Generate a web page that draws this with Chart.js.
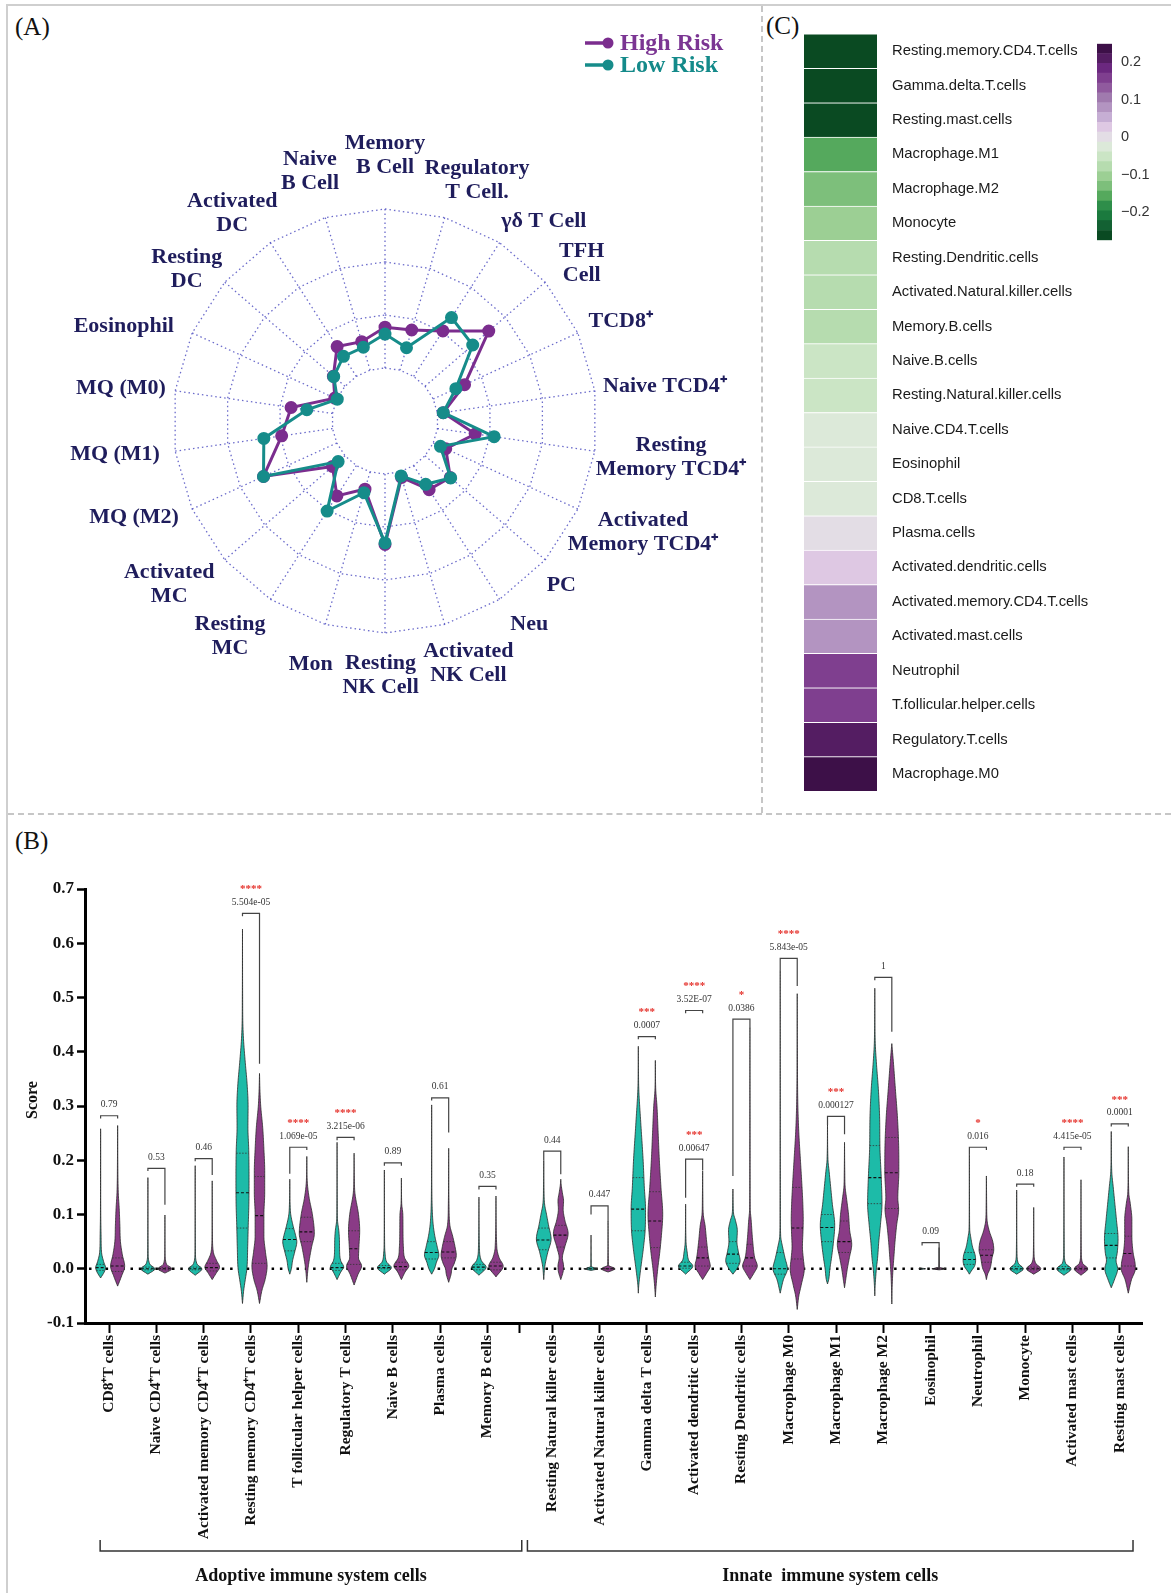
<!DOCTYPE html>
<html>
<head>
<meta charset="utf-8">
<title>Immune cell infiltration</title>
<script src="https://cdn.jsdelivr.net/npm/chart.js@4.4.1/dist/chart.umd.min.js"></script>
<style>
	body { margin: 0; background: #fff; }
	#figure { position: relative; width: 1171px; height: 1593px; overflow: hidden; font-family: "Liberation Serif", serif; }
	canvas { position: absolute; }
	.tag { position: absolute; font-size: 25px; line-height: 25px; color: #111; }
	.frame-top { position: absolute; left: 6px; top: 4px; width: 1165px; border-top: 2px solid #cfcfcf; }
	.frame-left { position: absolute; left: 6px; top: 4px; height: 1589px; border-left: 2px solid #cfcfcf; }
	.divider-v { position: absolute; left: 761px; top: 6px; height: 807px; border-left: 2px dashed #c6c6c6; }
	.divider-h { position: absolute; left: 8px; top: 813px; width: 1163px; border-top: 2px dashed #c6c6c6; }
</style>
</head>
<body>
<div id="figure">
	<div class="frame-top"></div>
	<div class="frame-left"></div>
	<div class="divider-v"></div>
	<div class="divider-h"></div>
	<div class="tag" style="left:15px; top:14px;">(A)</div>
	<div class="tag" style="left:766px; top:13px;">(C)</div>
	<div class="tag" style="left:15px; top:828px;">(B)</div>
	<canvas id="radarChart" width="753" height="805" style="left:7px; top:5px;"></canvas>
	<canvas id="heatChart" width="303" height="805" style="left:804px; top:10px;"></canvas>
	<canvas id="scaleChart" width="60" height="232" style="left:1097px; top:26px;"></canvas>
	<canvas id="violinChart" width="1171" height="778" style="left:0px; top:815px;"></canvas>
</div>

<script>
/**
 * 면역세포 침윤 비교 그림
 * (A) 레이더, (B) 바이올린, (C) 상관 히트맵
 */

// ---- (A) 레이더 데이터 ----
const radarLabels = [
	['Memory', 'B Cell'], ['Regulatory', 'T Cell.'], ['γδ T Cell'], ['TFH', 'Cell'], ['TCD8⁺'],
	['Naive TCD4⁺'], ['Resting', 'Memory TCD4⁺'], ['Activated', 'Memory TCD4⁺'], ['PC'], ['Neu'],
	['Activated', 'NK Cell'], ['Resting', 'NK Cell'], ['Mon'], ['Resting', 'MC'], ['Activated', 'MC'],
	['MQ (M2)'], ['MQ (M1)'], ['MQ (M0)'], ['Eosinophil'], ['Resting', 'DC'], ['Activated', 'DC'],
	['Naive', 'B Cell']
];
const highRiskScores = [1.77, 1.79, 2.02, 2.59, 1.65, 1.11, 1.72, 1.26, 1.63, 1.54, 1.11,
	2.33, 1.34, 1.68, 1.31, 2.52, 1.97, 1.79, 1.04, 1.29, 1.67, 1.56];
const lowRiskScores = [1.64, 1.44, 2.32, 2.19, 1.47, 1.11, 2.08, 1.15, 1.64, 1.42, 1.08,
	2.30, 1.41, 2.02, 1.17, 2.52, 2.31, 1.49, 0.99, 1.28, 1.45, 1.45];

// ---- (C) 히트맵 데이터 ----
const heatRows = ['Resting.memory.CD4.T.cells', 'Gamma.delta.T.cells', 'Resting.mast.cells',
	'Macrophage.M1', 'Macrophage.M2', 'Monocyte', 'Resting.Dendritic.cells',
	'Activated.Natural.killer.cells', 'Memory.B.cells', 'Naive.B.cells',
	'Resting.Natural.killer.cells', 'Naive.CD4.T.cells', 'Eosinophil', 'CD8.T.cells',
	'Plasma.cells', 'Activated.dendritic.cells', 'Activated.memory.CD4.T.cells',
	'Activated.mast.cells', 'Neutrophil', 'T.follicular.helper.cells', 'Regulatory.T.cells',
	'Macrophage.M0'];
const heatValues = [-0.26, -0.26, -0.26, -0.156, -0.13, -0.104, -0.078, -0.078, -0.078, -0.052,
	-0.052, -0.026, -0.026, -0.026, 0.0, 0.027, 0.079, 0.079, 0.157, 0.157, 0.21, 0.236];
const colorScaleTicks = [-0.2, -0.1, 0, 0.1, 0.2];
const colorScaleRange = [-0.274, 0.249];
const colorScalePalette = ['#0a4a22', '#136133', '#1b7a3e', '#2e8e4a', '#55a95d', '#7dbf7b',
	'#9ccf94', '#b6dcaf', '#cbe5c5', '#dce9d9', '#e3dde5', '#dec8e3', '#c6aed4', '#b394c1',
	'#a07aae', '#905a9e', '#7f3f8f', '#6b287f', '#541d62', '#3d1048'];

// ---- (B) 바이올린 데이터 ----
const cellTypes = ['CD8⁺T cells', 'Naive CD4⁺T cells', 'Activated memory CD4⁺T cells',
	'Resting memory CD4⁺T cells', 'T follicular helper cells', 'Regulatory T cells',
	'Naive B cells', 'Plasma cells', 'Memory B cells', 'Resting Natural killer cells',
	'Activated Natural killer cells', 'Gamma delta T cells', 'Activated dendritic cells',
	'Resting Dendritic cells', 'Macrophage M0', 'Macrophage M1', 'Macrophage M2',
	'Eosinophil', 'Neutrophil', 'Monocyte', 'Activated mast cells', 'Resting mast cells'];
const adaptiveCount = 9;
const groupNames = ['Adoptive immune system cells', 'Innate  immune system cells'];
const scoreRange = [-0.1, 0.7];

// 밀도 프로파일: [score, 상대 밀도]
const lowRiskViolins = [
	[[-0.017, 0], [-0.006, 0.45], [0.002, 0.62], [0.012, 0.4], [0.03, 0.12], [0.06, 0.06], [0.1, 0.02], [0.258, 0]],
	[[-0.01, 0], [0, 0.88], [0.008, 0.25], [0.03, 0.03], [0.168, 0]],
	[[-0.012, 0], [0, 0.85], [0.008, 0.25], [0.03, 0.03], [0.19, 0]],
	[[-0.064, 0], [-0.04, 0.15], [-0.02, 0.35], [0, 0.55], [0.04, 0.65], [0.08, 0.72], [0.12, 0.8], [0.17, 0.82], [0.22, 0.78], [0.26, 0.68], [0.3, 0.7], [0.34, 0.58], [0.38, 0.35], [0.42, 0.14], [0.45, 0.05], [0.5, 0.02], [0.626, 0]],
	[[-0.01, 0], [0, 0.2], [0.015, 0.35], [0.03, 0.6], [0.05, 0.88], [0.06, 0.75], [0.08, 0.4], [0.1, 0.12], [0.12, 0.04], [0.165, 0]],
	[[-0.02, 0], [-0.005, 0.5], [0.003, 0.83], [0.015, 0.45], [0.03, 0.32], [0.05, 0.3], [0.07, 0.22], [0.09, 0.05], [0.12, 0.02], [0.233, 0]],
	[[-0.01, 0], [0.002, 0.88], [0.012, 0.3], [0.03, 0.08], [0.05, 0.03], [0.182, 0]],
	[[-0.01, 0], [0, 0.35], [0.012, 0.6], [0.025, 0.9], [0.04, 0.7], [0.06, 0.4], [0.08, 0.2], [0.1, 0.1], [0.14, 0.03], [0.302, 0]],
	[[-0.012, 0], [0.003, 0.9], [0.015, 0.3], [0.04, 0.06], [0.132, 0]],
	[[-0.02, 0], [0, 0.1], [0.01, 0.2], [0.03, 0.5], [0.055, 0.92], [0.08, 0.6], [0.1, 0.35], [0.12, 0.1], [0.15, 0.03], [0.199, 0]],
	[[-0.003, 0], [0, 0.9], [0.003, 0.05], [0.062, 0]],
	[[-0.045, 0], [-0.03, 0.06], [0, 0.3], [0.04, 0.65], [0.07, 0.85], [0.11, 0.9], [0.15, 0.75], [0.2, 0.6], [0.27, 0.3], [0.33, 0.06], [0.36, 0.02], [0.41, 0]],
	[[-0.01, 0], [0.005, 0.9], [0.015, 0.4], [0.03, 0.2], [0.05, 0.05], [0.119, 0]],
	[[-0.01, 0], [0, 0.5], [0.015, 0.9], [0.03, 0.7], [0.05, 0.5], [0.07, 0.55], [0.09, 0.3], [0.1, 0.1], [0.12, 0.03], [0.147, 0]],
	[[-0.045, 0], [-0.02, 0.4], [0, 0.9], [0.02, 0.6], [0.04, 0.3], [0.06, 0.06], [0.1, 0.02], [0.55, 0]],
	[[-0.028, 0], [-0.02, 0.15], [0, 0.3], [0.02, 0.5], [0.05, 0.75], [0.08, 0.9], [0.12, 0.6], [0.15, 0.4], [0.18, 0.2], [0.2, 0.06], [0.265, 0]],
	[[-0.05, 0], [-0.03, 0.05], [0, 0.2], [0.02, 0.35], [0.05, 0.5], [0.08, 0.7], [0.12, 0.9], [0.17, 0.8], [0.22, 0.65], [0.28, 0.6], [0.33, 0.45], [0.38, 0.2], [0.42, 0.05], [0.517, 0]],
	[[-0.001, 0], [0, 0.4], [0.001, 0]],
	[[-0.01, 0], [-0.005, 0.2], [0.005, 0.65], [0.015, 0.78], [0.025, 0.72], [0.04, 0.4], [0.06, 0.15], [0.07, 0.05], [0.1, 0.02], [0.211, 0]],
	[[-0.01, 0], [0, 0.85], [0.01, 0.2], [0.03, 0.04], [0.145, 0]],
	[[-0.012, 0], [0, 0.9], [0.01, 0.2], [0.03, 0.04], [0.206, 0]],
	[[-0.035, 0], [-0.02, 0.4], [0, 0.8], [0.015, 0.6], [0.03, 0.75], [0.055, 0.85], [0.09, 0.65], [0.12, 0.45], [0.15, 0.25], [0.18, 0.06], [0.253, 0]]
];
const highRiskViolins = [
	[[-0.032, 0], [-0.015, 0.45], [0.005, 0.88], [0.025, 0.6], [0.05, 0.35], [0.08, 0.28], [0.11, 0.2], [0.14, 0.08], [0.2, 0.02], [0.264, 0]],
	[[-0.008, 0], [0, 0.88], [0.008, 0.2], [0.03, 0.02], [0.099, 0]],
	[[-0.02, 0], [-0.008, 0.5], [0.003, 0.92], [0.015, 0.55], [0.03, 0.15], [0.06, 0.03], [0.162, 0]],
	[[-0.064, 0], [-0.04, 0.3], [-0.02, 0.7], [0.005, 0.95], [0.03, 0.75], [0.06, 0.55], [0.1, 0.55], [0.14, 0.65], [0.18, 0.65], [0.22, 0.55], [0.26, 0.4], [0.3, 0.15], [0.33, 0.05], [0.36, 0]],
	[[-0.025, 0], [0, 0.15], [0.02, 0.35], [0.04, 0.6], [0.065, 0.94], [0.1, 0.7], [0.13, 0.3], [0.16, 0.06], [0.207, 0]],
	[[-0.03, 0], [-0.01, 0.5], [0.005, 0.94], [0.02, 0.55], [0.04, 0.6], [0.07, 0.7], [0.1, 0.55], [0.14, 0.1], [0.17, 0.03], [0.213, 0]],
	[[-0.02, 0], [-0.005, 0.5], [0.005, 0.94], [0.02, 0.4], [0.04, 0.25], [0.07, 0.2], [0.1, 0.18], [0.12, 0.04], [0.167, 0]],
	[[-0.025, 0], [-0.01, 0.3], [0, 0.4], [0.01, 0.7], [0.025, 0.95], [0.04, 0.8], [0.06, 0.5], [0.08, 0.15], [0.12, 0.04], [0.222, 0]],
	[[-0.015, 0], [0.005, 0.9], [0.02, 0.4], [0.04, 0.1], [0.134, 0]],
	[[-0.02, 0], [-0.005, 0.3], [0.005, 0.35], [0.02, 0.2], [0.04, 0.5], [0.065, 0.92], [0.09, 0.5], [0.11, 0.3], [0.125, 0.35], [0.14, 0.2], [0.155, 0.05], [0.165, 0]],
	[[-0.006, 0], [0, 0.9], [0.006, 0.05], [0.088, 0]],
	[[-0.052, 0], [-0.03, 0.1], [0, 0.3], [0.03, 0.55], [0.06, 0.75], [0.1, 0.92], [0.15, 0.7], [0.2, 0.5], [0.25, 0.35], [0.3, 0.2], [0.33, 0.05], [0.384, 0]],
	[[-0.02, 0], [-0.008, 0.5], [0.005, 0.95], [0.02, 0.75], [0.05, 0.5], [0.08, 0.3], [0.1, 0.08], [0.13, 0.03], [0.18, 0]],
	[[-0.02, 0], [-0.008, 0.5], [0.005, 0.92], [0.02, 0.6], [0.05, 0.35], [0.09, 0.15], [0.11, 0.04], [0.2, 0.02], [0.444, 0]],
	[[-0.075, 0], [-0.05, 0.2], [-0.03, 0.5], [0, 0.88], [0.02, 0.75], [0.04, 0.65], [0.07, 0.72], [0.09, 0.75], [0.12, 0.7], [0.15, 0.6], [0.2, 0.4], [0.25, 0.2], [0.3, 0.08], [0.4, 0.02], [0.507, 0]],
	[[-0.035, 0], [-0.02, 0.15], [0, 0.35], [0.02, 0.6], [0.045, 0.9], [0.07, 0.65], [0.1, 0.5], [0.13, 0.25], [0.15, 0.08], [0.18, 0.03], [0.233, 0]],
	[[-0.065, 0], [-0.03, 0.05], [0, 0.15], [0.02, 0.25], [0.05, 0.4], [0.08, 0.6], [0.11, 0.85], [0.13, 0.75], [0.18, 0.88], [0.23, 0.85], [0.28, 0.7], [0.33, 0.45], [0.38, 0.2], [0.415, 0]],
	[[-0.002, 0], [0, 0.9], [0.002, 0.05], [0.039, 0]],
	[[-0.02, 0], [-0.01, 0.15], [0, 0.45], [0.01, 0.6], [0.02, 0.7], [0.035, 0.92], [0.05, 0.8], [0.07, 0.35], [0.09, 0.08], [0.12, 0.03], [0.171, 0]],
	[[-0.01, 0], [0, 0.9], [0.01, 0.25], [0.03, 0.04], [0.113, 0]],
	[[-0.012, 0], [0, 0.85], [0.01, 0.2], [0.03, 0.04], [0.164, 0]],
	[[-0.045, 0], [-0.02, 0.4], [0, 0.88], [0.01, 0.85], [0.03, 0.6], [0.06, 0.45], [0.09, 0.45], [0.12, 0.25], [0.14, 0.06], [0.225, 0]]
];
// [Q1, median, Q3]
const lowRiskQuartiles = [[-0.003, 0.002, 0.008], [-0.002, 0, 0.003], [-0.002, 0, 0.003], [0.075, 0.14, 0.213],
	[0.033, 0.054, 0.074], [-0.003, 0.002, 0.01], [0, 0.002, 0.006], [0.018, 0.03, 0.05], [-0.002, 0.003, 0.008],
	[0.035, 0.053, 0.075], [0, 0, 0], [0.07, 0.11, 0.168], [0.001, 0.005, 0.012], [0.01, 0.027, 0.05],
	[-0.01, 0, 0.03], [0.05, 0.076, 0.1], [0.12, 0.168, 0.227], [0, 0, 0], [0.008, 0.017, 0.03],
	[-0.002, 0, 0.004], [-0.002, 0, 0.004], [0.02, 0.043, 0.065]];
const highRiskQuartiles = [[-0.005, 0.005, 0.02], [-0.002, 0, 0.002], [-0.004, 0.002, 0.01], [0.01, 0.098, 0.17],
	[0.05, 0.068, 0.095], [0.008, 0.037, 0.07], [-0.002, 0.004, 0.012], [0.02, 0.031, 0.05], [-0.002, 0.005, 0.012],
	[0.04, 0.062, 0.08], [0, 0, 0], [0.039, 0.088, 0.142], [0.005, 0.02, 0.04], [0.005, 0.02, 0.045],
	[0.018, 0.075, 0.15], [0.03, 0.05, 0.088], [0.111, 0.177, 0.242], [0, 0, 0], [0.012, 0.025, 0.035],
	[-0.002, 0, 0.003], [-0.002, 0, 0.003], [0.005, 0.028, 0.06]];

// 유의성 검정: 카테고리, p값, 별표, [괄호 높이, 왼쪽 다리 끝, 오른쪽 다리 끝]
const testCategory = [0, 1, 2, 3, 4, 5, 6, 7, 8, 9, 10, 11, 12, 12, 13, 14, 15, 16, 17, 18, 19, 20, 21];
const testP = ['0.79', '0.53', '0.46', '5.504e-05', '1.069e-05', '3.215e-06', '0.89', '0.61', '0.35',
	'0.44', '0.447', '0.0007', '3.52E-07', '0.00647', '0.0386', '5.843e-05', '0.000127', '1',
	'0.09', '0.016', '0.18', '4.415e-05', '0.0001'];
const testStars = ['', '', '', '****', '****', '****', '', '', '', '', '', '***', '****', '***', '*',
	'****', '***', '', '', '*', '', '****', '***'];
const testBracket = [[0.282, 0.277, 0.277], [0.185, 0.180, 0.118], [0.203, 0.198, 0.173],
	[0.655, 0.650, 0.378], [0.224, 0.175, 0.219], [0.242, 0.237, 0.237], [0.195, 0.190, 0.190],
	[0.315, 0.310, 0.251], [0.152, 0.146, 0.146], [0.217, 0.199, 0.174], [0.116, 0.100, 0.088],
	[0.428, 0.423, 0.423], [0.476, 0.471, 0.471], [0.202, 0.131, 0.181], [0.460, 0.171, 0.444],
	[0.572, 0.550, 0.521], [0.281, 0.265, 0.248], [0.537, 0.532, 0.437], [0.048, 0.043, 0.0],
	[0.224, 0.211, 0.219], [0.156, 0.151, 0.151], [0.224, 0.219, 0.219], [0.267, 0.262, 0.262]];

// ---- 스타일 ----
const HIGH_COLOR = '#7b2d8e';
const LOW_COLOR = '#168c8a';
const VIOLIN_LOW = '#1dbba8';
const VIOLIN_HIGH = '#8a3b86';
const GRID_COLOR = 'rgba(70, 70, 190, 0.8)';
const LABEL_NAVY = '#1f1d5c';
const SERIF = '"Liberation Serif", "Times New Roman", serif';
const SANS = '"Liberation Sans", Arial, sans-serif';
const GROUP_GAP = 0.37;
const PAIR_OFFSET = 0.18;
const VIOLIN_HALF = 8;
// 레이더 라벨 배치: [바깥 원 대비 거리, 각도(도)]
const RADAR_LABEL_POLAR = [[1.255, 0], [1.217, 20.9], [1.203, 38.5], [1.189, 51.3], [1.208, 67],
	[1.33, 83], [1.36, 97.3], [1.326, 113.4], [1.137, 133], [1.175, 144.6], [1.208, 161],
	[1.198, 181], [1.198, 197], [1.25, 215.8], [1.278, 232.8], [1.268, 249], [1.283, 263],
	[1.255, 277], [1.311, 290], [1.179, 307.5], [1.217, 323.7], [1.231, 343.3]];

Chart.defaults.font.family = SERIF;

document.addEventListener('DOMContentLoaded', function() {
	initRadarChart();
	initHeatmapChart();
	initColorScale();
	initViolinChart();
});

/**
 * (A) 레이더 차트: 바퀴살, 축 라벨, 범례는 플러그인으로 그림
 */
const radarDecor = {
	id: 'radarDecor',
	beforeDatasetsDraw(chart) {
		const ctx = chart.ctx;
		const r = chart.scales.r;
		const inner = r.getDistanceFromCenterForValue(1);
		const outer = r.getDistanceFromCenterForValue(r.max);
		ctx.save();
		ctx.strokeStyle = GRID_COLOR;
		ctx.lineWidth = 1.3;
		ctx.setLineDash([1.5, 3]);
		radarLabels.forEach(function(_, i) {
			const p1 = r.getPointPosition(i, inner);
			const p2 = r.getPointPosition(i, outer);
			ctx.beginPath();
			ctx.moveTo(p1.x, p1.y);
			ctx.lineTo(p2.x, p2.y);
			ctx.stroke();
		});
		ctx.restore();
	},
	afterDraw(chart) {
		const ctx = chart.ctx;
		const r = chart.scales.r;
		const outer = r.getDistanceFromCenterForValue(r.max);
		const lineH = 24;
		ctx.save();
		ctx.font = 'bold 22px ' + SERIF;
		ctx.fillStyle = LABEL_NAVY;
		ctx.textAlign = 'center';
		ctx.textBaseline = 'middle';
		radarLabels.forEach(function(lines, i) {
			const pl = RADAR_LABEL_POLAR[i];
			const a = pl[1] * Math.PI / 180;
			const dist = outer * pl[0];
			const h = lines.length * lineH;
			const cx = r.xCenter + dist * Math.sin(a);
			const cy = r.yCenter - dist * Math.cos(a);
			lines.forEach(function(t, k) {
				ctx.fillText(t, cx, cy - h / 2 + lineH / 2 + k * lineH);
			});
		});

		// 범례
		const items = [['High Risk', HIGH_COLOR, '#7b3593', 38], ['Low Risk', LOW_COLOR, '#148a8a', 60]];
		ctx.font = 'bold 24px ' + SERIF;
		ctx.textAlign = 'left';
		items.forEach(function(it) {
			ctx.strokeStyle = it[1];
			ctx.fillStyle = it[1];
			ctx.lineWidth = 3.5;
			ctx.beginPath();
			ctx.moveTo(578, it[3]);
			ctx.lineTo(604, it[3]);
			ctx.stroke();
			ctx.beginPath();
			ctx.arc(601, it[3], 5.5, 0, Math.PI * 2);
			ctx.fill();
			ctx.fillStyle = it[2];
			ctx.fillText(it[0], 613, it[3] + 1);
		});
		ctx.restore();
	}
};

function initRadarChart() {
	const ctx = document.getElementById('radarChart').getContext('2d');
	const series = function(label, data, color) {
		return {
			label: label,
			data: data,
			borderColor: color,
			backgroundColor: color,
			pointBackgroundColor: color,
			pointBorderColor: color,
			borderWidth: 3,
			pointRadius: 5,
			fill: false
		};
	};
	new Chart(ctx, {
		type: 'radar',
		data: {
			labels: radarLabels.map(l => l.join(' ')),
			datasets: [series('Low Risk', lowRiskScores, LOW_COLOR), series('High Risk', highRiskScores, HIGH_COLOR)]
		},
		options: {
			responsive: false,
			animation: false,
			events: [],
			layout: { padding: { left: 166, right: 163, top: 204, bottom: 177 } },
			elements: { line: { tension: 0 } },
			plugins: { legend: { display: false }, tooltip: { enabled: false } },
			scales: {
				r: {
					min: 0,
					max: 4,
					ticks: { display: false, stepSize: 1 },
					pointLabels: { display: false },
					angleLines: { display: false },
					grid: { circular: false, color: GRID_COLOR, lineWidth: 1.3 },
					border: { dash: [1.5, 3] }
				}
			}
		},
		plugins: [radarDecor]
	});
}

/**
 * (C) 상관계수 히트맵
 */
function heatColor(value) {
	const step = (colorScaleRange[1] - colorScaleRange[0]) / colorScalePalette.length;
	let idx = Math.floor((value - colorScaleRange[0]) / step);
	idx = Math.max(0, Math.min(colorScalePalette.length - 1, idx));
	return colorScalePalette[idx];
}

function initHeatmapChart() {
	const ctx = document.getElementById('heatChart').getContext('2d');
	new Chart(ctx, {
		type: 'bar',
		data: {
			labels: heatRows,
			datasets: [{
				data: heatRows.map(() => [0, 1]),
				backgroundColor: heatValues.map(heatColor),
				borderColor: '#ffffff',
				borderWidth: { top: 1, bottom: 0, left: 0, right: 0 },
				borderSkipped: false,
				barPercentage: 1,
				categoryPercentage: 1
			}]
		},
		options: {
			indexAxis: 'y',
			responsive: false,
			animation: false,
			events: [],
			layout: { padding: 0 },
			plugins: { legend: { display: false }, tooltip: { enabled: false } },
			scales: {
				x: { display: false, min: 0, max: 1 },
				y: {
					position: 'right',
					grid: { display: false, drawTicks: false },
					border: { display: false },
					ticks: { padding: 15, color: '#1a1a1a', font: { family: SANS, size: 14.8 } },
					afterFit: function(scale) { scale.width = 230; }
				}
			}
		}
	});
}

function initColorScale() {
	const ctx = document.getElementById('scaleChart').getContext('2d');
	const step = (colorScaleRange[1] - colorScaleRange[0]) / colorScalePalette.length;
	new Chart(ctx, {
		type: 'bar',
		data: {
			labels: [''],
			datasets: colorScalePalette.map(function(c, i) {
				const lo = colorScaleRange[0] + i * step;
				return {
					data: [[lo, lo + step]],
					backgroundColor: c,
					grouped: false,
					barPercentage: 1,
					categoryPercentage: 1
				};
			})
		},
		options: {
			responsive: false,
			animation: false,
			events: [],
			layout: { padding: 0 },
			plugins: { legend: { display: false }, tooltip: { enabled: false } },
			scales: {
				x: { display: false },
				y: {
					position: 'right',
					min: colorScaleRange[0],
					max: colorScaleRange[1],
					afterBuildTicks: function(scale) { scale.ticks = colorScaleTicks.map(v => ({ value: v })); },
					grid: { display: false, drawTicks: false },
					border: { display: false },
					ticks: {
						padding: 9,
						color: '#333',
						font: { family: SANS, size: 14.5 },
						callback: function(v) { return v === 0 ? '0' : (v < 0 ? '\u2212' : '') + Math.abs(v).toFixed(1); }
					},
					afterFit: function(scale) { scale.width = 45; }
				}
			}
		}
	});
}

/**
 * (B) 바이올린 플롯 보조 함수
 */
function catPos(i) {
	return i < adaptiveCount ? i : i + GROUP_GAP;
}

// 단조 3차 보간 (Fritsch-Carlson)
function makeInterp(pts) {
	const n = pts.length;
	const xs = pts.map(p => p[0]);
	const ys = pts.map(p => p[1]);
	const d = [];
	const m = [];
	for (let i = 0; i < n - 1; i++) d.push((ys[i + 1] - ys[i]) / (xs[i + 1] - xs[i]));
	m[0] = d[0];
	m[n - 1] = d[n - 2];
	for (let i = 1; i < n - 1; i++) m[i] = d[i - 1] * d[i] <= 0 ? 0 : (d[i - 1] + d[i]) / 2;
	for (let i = 0; i < n - 1; i++) {
		if (d[i] === 0) { m[i] = 0; m[i + 1] = 0; continue; }
		const a = m[i] / d[i];
		const b = m[i + 1] / d[i];
		const s = a * a + b * b;
		if (s > 9) {
			const t = 3 / Math.sqrt(s);
			m[i] = t * a * d[i];
			m[i + 1] = t * b * d[i];
		}
	}
	return function(v) {
		if (v <= xs[0]) return ys[0];
		if (v >= xs[n - 1]) return ys[n - 1];
		let i = 0;
		while (i < n - 2 && v > xs[i + 1]) i++;
		const h = xs[i + 1] - xs[i];
		const t = (v - xs[i]) / h;
		const t2 = t * t;
		const t3 = t2 * t;
		return (2 * t3 - 3 * t2 + 1) * ys[i] + (t3 - 2 * t2 + t) * h * m[i] +
			(-2 * t3 + 3 * t2) * ys[i + 1] + (t3 - t2) * h * m[i + 1];
	};
}

function drawViolin(ctx, xScale, yScale, pos, profile, quart, color) {
	const interp = makeInterp(profile);
	const cx = xScale.getPixelForValue(pos);
	const vMin = profile[0][0];
	const vMax = profile[profile.length - 1][0];
	const span = Math.abs(yScale.getPixelForValue(vMin) - yScale.getPixelForValue(vMax));
	const steps = Math.max(30, Math.ceil(span / 1.5));
	const right = [];
	for (let k = 0; k <= steps; k++) {
		const v = vMin + (vMax - vMin) * k / steps;
		right.push([Math.max(0, interp(v)) * VIOLIN_HALF, yScale.getPixelForValue(v)]);
	}
	ctx.beginPath();
	right.forEach(function(p, k) {
		if (k === 0) ctx.moveTo(cx + p[0], p[1]); else ctx.lineTo(cx + p[0], p[1]);
	});
	for (let k = right.length - 1; k >= 0; k--) ctx.lineTo(cx - right[k][0], right[k][1]);
	ctx.closePath();
	ctx.fillStyle = color;
	ctx.fill();
	ctx.strokeStyle = '#2a2a2a';
	ctx.lineWidth = 0.8;
	ctx.stroke();

	// 사분위수와 중앙값
	quart.forEach(function(q, k) {
		const w = Math.max(0, interp(q)) * VIOLIN_HALF;
		if (w < 1) return;
		const y = yScale.getPixelForValue(q);
		ctx.save();
		ctx.strokeStyle = k === 1 ? '#111' : '#333';
		ctx.lineWidth = k === 1 ? 1.1 : 0.8;
		ctx.setLineDash(k === 1 ? [3, 2] : [1.5, 1.5]);
		ctx.beginPath();
		ctx.moveTo(cx - w, y);
		ctx.lineTo(cx + w, y);
		ctx.stroke();
		ctx.restore();
	});
}

const violinPlugin = {
	id: 'violins',
	beforeDatasetsDraw(chart) {
		const ctx = chart.ctx;
		const y0 = chart.scales.y.getPixelForValue(0);
		ctx.save();
		ctx.strokeStyle = '#000';
		ctx.lineWidth = 2.5;
		ctx.setLineDash([2.5, 5.8]);
		ctx.beginPath();
		ctx.moveTo(chart.chartArea.left + 4, y0);
		ctx.lineTo(chart.chartArea.right, y0);
		ctx.stroke();
		ctx.restore();
	},
	afterDatasetsDraw(chart) {
		const ctx = chart.ctx;
		const xs = chart.scales.x;
		const ys = chart.scales.y;
		const area = chart.chartArea;
		ctx.save();
		cellTypes.forEach(function(_, i) {
			drawViolin(ctx, xs, ys, catPos(i) - PAIR_OFFSET, lowRiskViolins[i], lowRiskQuartiles[i], VIOLIN_LOW);
			drawViolin(ctx, xs, ys, catPos(i) + PAIR_OFFSET, highRiskViolins[i], highRiskQuartiles[i], VIOLIN_HIGH);
		});

		// 유의성 괄호와 p값
		testCategory.forEach(function(c, t) {
			const b = testBracket[t];
			const xl = xs.getPixelForValue(catPos(c) - PAIR_OFFSET);
			const xr = xs.getPixelForValue(catPos(c) + PAIR_OFFSET);
			const yb = ys.getPixelForValue(b[0]);
			ctx.strokeStyle = '#444';
			ctx.lineWidth = 1.2;
			ctx.beginPath();
			ctx.moveTo(xl, ys.getPixelForValue(b[1]));
			ctx.lineTo(xl, yb);
			ctx.lineTo(xr, yb);
			ctx.lineTo(xr, ys.getPixelForValue(b[2]));
			ctx.stroke();
			const xm = (xl + xr) / 2;
			ctx.textAlign = 'center';
			ctx.textBaseline = 'middle';
			ctx.fillStyle = '#333';
			ctx.font = '9.5px ' + SERIF;
			ctx.fillText(testP[t], xm, yb - 11);
			if (testStars[t]) {
				ctx.fillStyle = '#e5302a';
				ctx.font = 'bold 11px ' + SERIF;
				ctx.fillText(testStars[t], xm, yb - 24);
			}
		});

		// 세포군 묶음 괄호
		const sep = (catPos(adaptiveCount - 1) + catPos(adaptiveCount)) / 2;
		const spans = [[catPos(0) - 0.19, sep + 0.04], [sep + 0.16, catPos(cellTypes.length - 1) + 0.28]];
		const by = area.bottom + 228;
		ctx.strokeStyle = '#333';
		ctx.lineWidth = 1.5;
		ctx.fillStyle = '#111';
		ctx.font = 'bold 18px ' + SERIF;
		ctx.textAlign = 'center';
		ctx.textBaseline = 'middle';
		spans.forEach(function(s, g) {
			const x1 = xs.getPixelForValue(s[0]);
			const x2 = xs.getPixelForValue(s[1]);
			ctx.beginPath();
			ctx.moveTo(x1, by - 11);
			ctx.lineTo(x1, by);
			ctx.lineTo(x2, by);
			ctx.lineTo(x2, by - 11);
			ctx.stroke();
			ctx.fillText(groupNames[g], (x1 + x2) / 2, by + 25);
		});

		// y축 제목
		ctx.save();
		ctx.translate(area.left - 52, (area.top + area.bottom) / 2 - 6);
		ctx.rotate(-Math.PI / 2);
		ctx.font = 'bold 16px ' + SERIF;
		ctx.fillText('Score', 0, 0);
		ctx.restore();
		ctx.restore();
	}
};

function initViolinChart() {
	const ctx = document.getElementById('violinChart').getContext('2d');
	const sep = (catPos(adaptiveCount - 1) + catPos(adaptiveCount)) / 2;
	const tickPositions = [];
	const tickLabels = [];
	cellTypes.forEach(function(name, i) {
		if (i === adaptiveCount) { tickPositions.push(sep); tickLabels.push(''); }
		tickPositions.push(catPos(i));
		tickLabels.push(name);
	});
	const lastPos = catPos(cellTypes.length - 1);

	new Chart(ctx, {
		type: 'scatter',
		data: {
			datasets: [{
				label: 'Low Risk',
				data: lowRiskQuartiles.map((q, i) => ({ x: catPos(i) - PAIR_OFFSET, y: q[1] })),
				pointRadius: 0
			}, {
				label: 'High Risk',
				data: highRiskQuartiles.map((q, i) => ({ x: catPos(i) + PAIR_OFFSET, y: q[1] })),
				pointRadius: 0
			}]
		},
		options: {
			responsive: false,
			animation: false,
			events: [],
			layout: { padding: { left: 0, right: 29, top: 74, bottom: 0 } },
			plugins: { legend: { display: false }, tooltip: { enabled: false } },
			scales: {
				x: {
					type: 'linear',
					min: -0.51,
					max: lastPos + 0.47,
					afterBuildTicks: function(scale) { scale.ticks = tickPositions.map(v => ({ value: v })); },
					afterFit: function(scale) { scale.height = 270; },
					grid: { drawOnChartArea: false, tickColor: '#000', tickWidth: 2, tickLength: 10 },
					border: { color: '#000', width: 3 },
					ticks: {
						autoSkip: false,
						maxRotation: 90,
						minRotation: 90,
						padding: 2,
						color: '#111',
						font: { family: SERIF, size: 15.5, weight: 'bold' },
						callback: function(v, i) { return tickLabels[i]; }
					}
				},
				y: {
					min: scoreRange[0],
					max: scoreRange[1],
					afterFit: function(scale) { scale.width = 85; },
					grid: { drawOnChartArea: false, tickColor: '#000', tickWidth: 2.5, tickLength: 8 },
					border: { color: '#000', width: 3 },
					ticks: {
						stepSize: 0.1,
						padding: 3,
						color: '#111',
						font: { family: SERIF, size: 17, weight: 'bold' },
						callback: function(v) { return Math.abs(v) < 1e-9 ? '0.0' : v.toFixed(1); }
					}
				}
			}
		},
		plugins: [violinPlugin]
	});
}
</script>
</body>
</html>
